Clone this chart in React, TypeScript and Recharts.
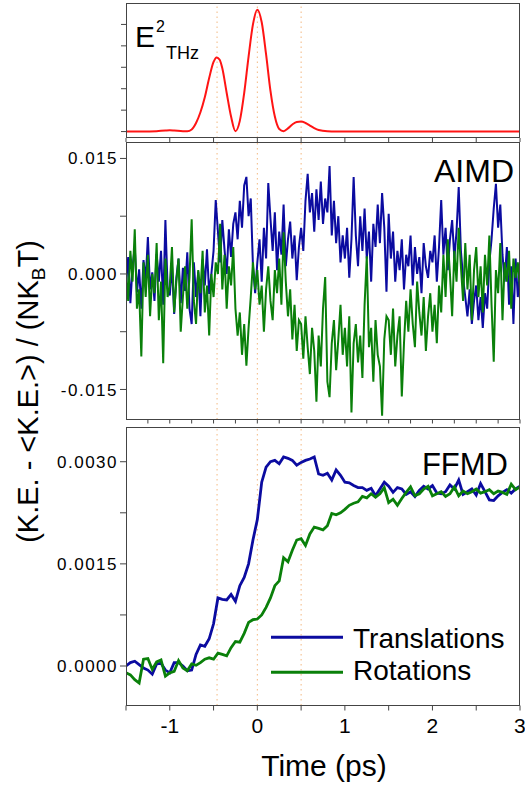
import { LineChart, Line, XAxis, YAxis, ReferenceLine } from 'recharts';

const FONT = '"Liberation Sans", Arial, Helvetica, sans-serif';
const BLUE = '#0b0ba0';
const GREEN = '#0a800a';
const RED = '#ff1414';
const DOT = '#f2b880';
const AXIS = '#444';

// dotted guide lines (ps)
const markerTimes = [-0.46, 0, 0.5];

// top panel: E^2 THz pulse (arb. units)
const pulseTime = [
  -1.5, -1.3, -1.15, -1.05, -1.0, -0.95, -0.85, -0.8, -0.75, -0.7, -0.65, -0.6, -0.55, -0.5, -0.465,
  -0.43, -0.4, -0.35, -0.3, -0.25, -0.2, -0.15, -0.1, -0.05, 0, 0.05, 0.1, 0.15, 0.2, 0.25, 0.3,
  0.35, 0.4, 0.45, 0.5, 0.55, 0.6, 0.65, 0.7, 0.8, 0.9, 1.5, 3.0,
];
const pulseValue = [
  0, 0, 0.02, 0.05, 0.06, 0.05, 0.02, 0.02, 0.1, 0.4, 0.9, 1.6, 2.5, 3.25, 3.46,
  3.35, 2.95, 1.8, 0.7, 0.02, 0.5, 1.8, 3.5, 5.0, 5.69, 5.1, 3.6, 1.9, 0.7, 0.12, 0.02,
  0.15, 0.33, 0.45, 0.47, 0.4, 0.28, 0.16, 0.07, 0.01, 0, 0, 0,
];

// AIMD, sampled every 0.025 ps from -1.5 ps, values x 1e-3
const aimdStart = -1.5;
const aimdStep = 0.025;
const aimdTranslations = [
  -1.5, 2.2, -3.8, 1.0, 3.5, -2.4, 0.6, -4.5, 1.8, -0.8, 4.8, -2.0, 0.2, -3.5, 2.6, -1.0, 3.0, -4.0, 7.0, -1.8,
  -2.8, 1.2, -5.2, -0.5, 2.0, -3.8, 0.8, -2.2, 2.8, -4.5, -6.5, 1.5, -3.0, 0.3, -5.5, 1.9, -1.5, 3.2, -2.6, 0.0,
  3.0, 9.6, 5.5, 1.5, 7.0, 3.2, 0.0, 5.8, 2.2, 6.5,
  8.0, 4.5, 9.5, 6.0, 11.5, 12.6, 7.5, 9.8, 1.0, -2.5,
  1.5, 4.5, -1.0, 6.0, 2.0, 11.8, 7.2, 3.0, 8.0, 0.5, 5.5, 2.5, 9.0, 1.0, 4.5, 6.8, 2.0, 5.0, -0.8, 3.5,
  6.0, 3.0, 9.5, 13.0, 8.0, 10.5, 5.5, 11.0, 7.0, 12.0, 6.5, 9.8, 8.0, 14.0, 5.0, 9.5, 4.0, 7.5, 1.5, 5.0,
  2.0, 6.0, -0.5, 4.5, 12.6, 5.0, 1.0, 7.5, 3.0, 8.5, 2.0, 5.5, -1.0, 6.5, 3.5, 9.0, 4.0, 10.5, 6.0, -2.3,
  7.8, 2.0, 5.5, -1.0, 3.0, 0.5, 4.5, -2.0, 2.5, 1.0, 5.0, -1.5, 3.5, 0.0, 2.2, -2.5, 4.0, 1.0, -0.5, 3.0,
  1.5, 5.0, -1.0, 3.5, 9.6, 2.5, 6.0, 0.5, 4.5, 7.0, 2.0, 5.5, 11.3, 3.0, -0.5, -3.0, -5.5, -2.0, -6.5, -3.5,
  -1.5, -6.0, -3.0, -7.0, -2.5, -4.5, 1.5, 4.5, 8.5, 11.7, 6.0, 9.0, 2.5, -1.0, 3.5, -4.0, 1.0, -6.5, 2.0, -3.0, 0.5,
];
const aimdRotations = [
  0.5, -3.5, 3.0, -1.0, 5.8, -4.5, -2.0, -10.7, 1.5, -3.0, 2.5, -5.5, 0.0, -2.5, 4.0, -6.0, -1.0, -11.6, 2.0, -3.0,
  -1.5, 3.5, -5.0, -1.0, 2.0, -7.5, -3.0, 1.0, -4.5, -0.5, 7.1, -3.5, -6.5, 0.5, -2.5, 3.0, -5.0, -1.5, -8.0, 0.0,
  -3.0, 1.5, 0.0, 6.5, -2.0, 2.5, -4.5, 1.0, -1.5, 3.5,
  -4.5, -8.0, -5.0, -10.5, -6.5, -11.9, -7.0, -3.0, 1.5, -2.0,
  0.5, -4.0, -1.5, -7.5, -2.0, 1.0, -3.5, -6.0, 0.5, -2.5, 2.0, -4.0, 5.4, -1.0, -5.5, -2.0, -8.5, -4.0, -10.0, -6.0,
  -6.5, -11.0, -5.5, -9.5, -13.0, -7.0, -10.0, -16.6, -8.0, -12.0, -4.5, -0.4, -14.0, -16.0, -9.0, -6.0, -12.5, -8.5, -4.0, -10.5,
  -7.0, -12.0, -5.5, -18.0, -9.0, -6.5, -11.5, -8.0, -13.5, -4.0, 2.3, -9.5, -7.0, -14.0, -6.0, -10.5, -12.0, -18.4, -8.5, -5.5,
  -6.0, -10.5, -4.5, -12.0, -8.0, -5.5, -15.9, -9.0, -3.5, -7.5, -2.0, -6.5, -9.5, -1.0, -5.0, -8.0, -3.0, -10.0, -5.5, -2.5,
  -7.5, -4.0, -9.0, -1.5, -5.0, 2.5, -3.0, 4.5, 0.0, -5.5, 3.0, -1.0, 6.0, 1.0, -3.5, 4.0, -2.0, 2.5, -6.0, 0.5,
  3.5, -3.0, 1.0, -5.0, 2.5, -1.5, 5.0, -4.0, -11.4, 0.5, -2.5, 4.0, -6.0, 1.5, -1.0, 3.0, -4.5, 2.0, -0.5, 1.5, -2.0,
];

// FFMD, sampled every 0.05 ps from -1.5 ps, values x 1e-4
const ffmdStart = -1.5;
const ffmdStep = 0.05;
const ffmdTranslations = [
  0.0, 0.5, 0.7, 0.2, -0.3, -0.6, -1.2, 0.3, 0.4, -0.6,
  -1.0, 0.5, 0.5, 0.0, -0.7, -0.6, 1.7, 3.1, 2.9, 4.0,
  6.2, 10.0, 9.8, 9.7, 10.5, 9.5, 11.8, 13.0, 15.0, 18.5,
  21.5, 27.0, 29.2, 30.0, 30.2, 29.7, 30.7, 30.5, 30.2, 29.5,
  29.9, 30.2, 30.4, 30.7, 28.2, 28.0, 28.3, 27.3, 28.8, 28.0,
  27.0, 26.9, 26.5, 26.2, 26.2, 25.8, 26.1, 25.0, 26.0, 27.0,
  26.4, 25.5, 26.2, 26.0, 25.2, 25.6, 24.9, 25.8, 26.4, 26.0,
  26.5, 25.4, 25.3, 25.6, 26.6, 26.0, 27.3, 25.2, 25.6, 26.0,
  25.1, 26.8, 25.6, 24.4, 24.3, 25.0, 25.5, 25.9, 25.4, 26.0,
  26.4,
];
const ffmdRotations = [
  -1.0, -1.3, -2.0, -2.5, 1.0, 1.1, -0.5, 0.6, 0.9, -1.5,
  -1.0, -0.8, 0.8, -0.3, -0.7, 0.3, 0.1, 0.5, 1.0, 1.2,
  1.0, 1.9, 1.7, 1.5, 2.7, 3.6, 3.5, 4.8, 6.4, 6.8,
  6.9, 7.5, 8.6, 10.0, 11.8, 12.5, 15.9, 15.3, 17.0, 18.5,
  18.7, 17.7, 19.4, 20.4, 20.2, 20.0, 20.6, 22.4, 22.2, 22.5,
  23.0, 23.6, 23.9, 24.1, 24.9, 24.7, 25.3, 24.8, 25.3, 26.2,
  24.0, 24.5, 23.6, 24.6, 25.5, 26.3, 25.0, 25.3, 26.0, 26.4,
  25.0, 25.3, 25.6, 24.9, 25.3, 26.3, 25.0, 25.7, 25.3, 25.6,
  26.0, 25.4, 25.6, 25.9, 25.3, 25.7, 25.5, 25.2, 26.7, 25.9,
  26.3,
];

const halfTicks = [-1.5, -1, -0.5, 0, 0.5, 1, 1.5, 2, 2.5, 3];
const quarterTicks = [-1.25, -1, -0.75, -0.5, -0.25, 0, 0.25, 0.5, 0.75, 1, 1.25, 1.5, 1.75, 2, 2.25, 2.5, 2.75, 3];
const pulseTicks = [0, 1, 2, 3, 4, 5];
const aimdTicks = [-15, -7.5, 0, 7.5, 15];
const ffmdTicks = [0, 7.5, 15, 22.5, 30];

const pulseData = pulseTime.map((t, i) => ({ t, e: pulseValue[i] }));
const aimdData = aimdTranslations.map((v, i) => ({
  t: +(aimdStart + i * aimdStep).toFixed(3),
  tr: v,
  rot: aimdRotations[i],
}));
const ffmdData = ffmdTranslations.map((v, i) => ({
  t: +(ffmdStart + i * ffmdStep).toFixed(3),
  tr: v,
  rot: ffmdRotations[i],
}));

const yTickStyle = { fill: '#000', fontSize: 17, fontFamily: FONT, letterSpacing: 1.5 };
const blank = () => '';

function Frame({ top, height }: { top: number; height: number }) {
  return (
    <div
      style={{
        position: 'absolute',
        left: 126,
        top,
        width: 394,
        height,
        boxSizing: 'border-box',
        border: `1.3px solid ${AXIS}`,
        pointerEvents: 'none',
      }}
    />
  );
}

function Guides() {
  return (
    <>
      {markerTimes.map((m) => (
        <ReferenceLine key={m} x={m} stroke={DOT} strokeWidth={1} strokeDasharray="1.5 3.5" />
      ))}
    </>
  );
}

export default function App() {
  return (
    <div style={{ position: 'absolute', left: 0, top: 0, width: 525, height: 791, background: '#fff' }}>
      {/* E^2 THz */}
      <div style={{ position: 'absolute', left: 0, top: 0 }}>
        <LineChart width={525} height={145} data={pulseData} margin={{ top: 3, right: 5, left: 0, bottom: 0 }}>
          <XAxis dataKey="t" type="number" domain={[-1.5, 3]} ticks={halfTicks} tickFormatter={blank}
            height={7} tickSize={4} axisLine={false} tickLine={{ stroke: AXIS }} allowDataOverflow />
          <YAxis type="number" domain={[-0.3, 6]} ticks={pulseTicks} tickFormatter={blank} width={126}
            tickSize={5} axisLine={false} tickLine={{ stroke: AXIS }} allowDataOverflow />
          {Guides()}
          <Line dataKey="e" type="monotone" stroke={RED} strokeWidth={2} dot={false} isAnimationActive={false} />
        </LineChart>
      </div>

      {/* AIMD */}
      <div style={{ position: 'absolute', left: 0, top: 130 }}>
        <LineChart width={525} height={300} data={aimdData} margin={{ top: 11.5, right: 5, left: 0, bottom: 2.5 }}>
          <XAxis dataKey="t" type="number" domain={[-1.5, 3]} ticks={quarterTicks} tickFormatter={blank}
            height={8} tickSize={4} axisLine={false} tickLine={{ stroke: AXIS }} allowDataOverflow />
          <YAxis type="number" domain={[-18.9, 17.2]} ticks={aimdTicks} width={126} tickSize={6}
            axisLine={false} tickLine={{ stroke: AXIS }} tick={yTickStyle} allowDataOverflow
            tickFormatter={(v: number) => (v % 15 === 0 ? (v / 1000).toFixed(3) : '')} />
          {Guides()}
          <Line dataKey="tr" type="linear" stroke={BLUE} strokeWidth={2} dot={false} isAnimationActive={false} />
          <Line dataKey="rot" type="linear" stroke={GREEN} strokeWidth={2} dot={false} isAnimationActive={false} />
        </LineChart>
      </div>

      {/* FFMD */}
      <div style={{ position: 'absolute', left: 0, top: 420 }}>
        <LineChart width={525} height={371} data={ffmdData} margin={{ top: 7, right: 5, left: 0, bottom: 45.5 }}>
          <XAxis dataKey="t" type="number" domain={[-1.5, 3]} ticks={halfTicks} height={40} tickSize={5}
            tickMargin={8} axisLine={false} tickLine={{ stroke: AXIS }} allowDataOverflow
            tick={{ fill: '#000', fontSize: 21, fontFamily: FONT }}
            tickFormatter={(v: number) => (Number.isInteger(v) ? String(v) : '')} />
          <YAxis type="number" domain={[-5.8, 35.1]} ticks={ffmdTicks} width={126} tickSize={6}
            axisLine={false} tickLine={{ stroke: AXIS }} tick={yTickStyle} allowDataOverflow
            tickFormatter={(v: number) => (v % 15 === 0 ? (v / 10000).toFixed(4) : '')} />
          {Guides()}
          <Line dataKey="tr" type="linear" stroke={BLUE} strokeWidth={2.8} dot={false} isAnimationActive={false} />
          <Line dataKey="rot" type="linear" stroke={GREEN} strokeWidth={2.8} dot={false} isAnimationActive={false} />
        </LineChart>
      </div>

      <Frame top={3} height={135} />
      <Frame top={141.5} height={278} />
      <Frame top={427} height={278.5} />

      <svg width={525} height={791} style={{ position: 'absolute', left: 0, top: 0, pointerEvents: 'none' }}
        fontFamily={FONT}>
        <text x={135} y={46.5} fontSize={30}>E</text>
        <text x={156} y={31.5} fontSize={16}>2</text>
        <text x={166} y={59} fontSize={18}>THz</text>

        <text x={514} y={181.5} fontSize={32} textAnchor="end">AIMD</text>
        <text x={508} y={475} fontSize={31} textAnchor="end">FFMD</text>

        <line x1={271} x2={343} y1={637.3} y2={637.3} stroke={BLUE} strokeWidth={3} />
        <text x={353} y={647.5} fontSize={28}>Translations</text>
        <line x1={271} x2={343} y1={672.3} y2={672.3} stroke={GREEN} strokeWidth={3} />
        <text x={353} y={680} fontSize={28}>Rotations</text>

        <text x={324} y={776} fontSize={30} textAnchor="middle">Time (ps)</text>

        <text transform="translate(38 391.5) rotate(-90)" fontSize={29} textAnchor="middle">
          (K.E. - &lt;K.E.&gt;) / (NK
          <tspan fontSize={19} dy={7}>B</tspan>
          <tspan dy={-7}>T)</tspan>
        </text>
      </svg>
    </div>
  );
}
